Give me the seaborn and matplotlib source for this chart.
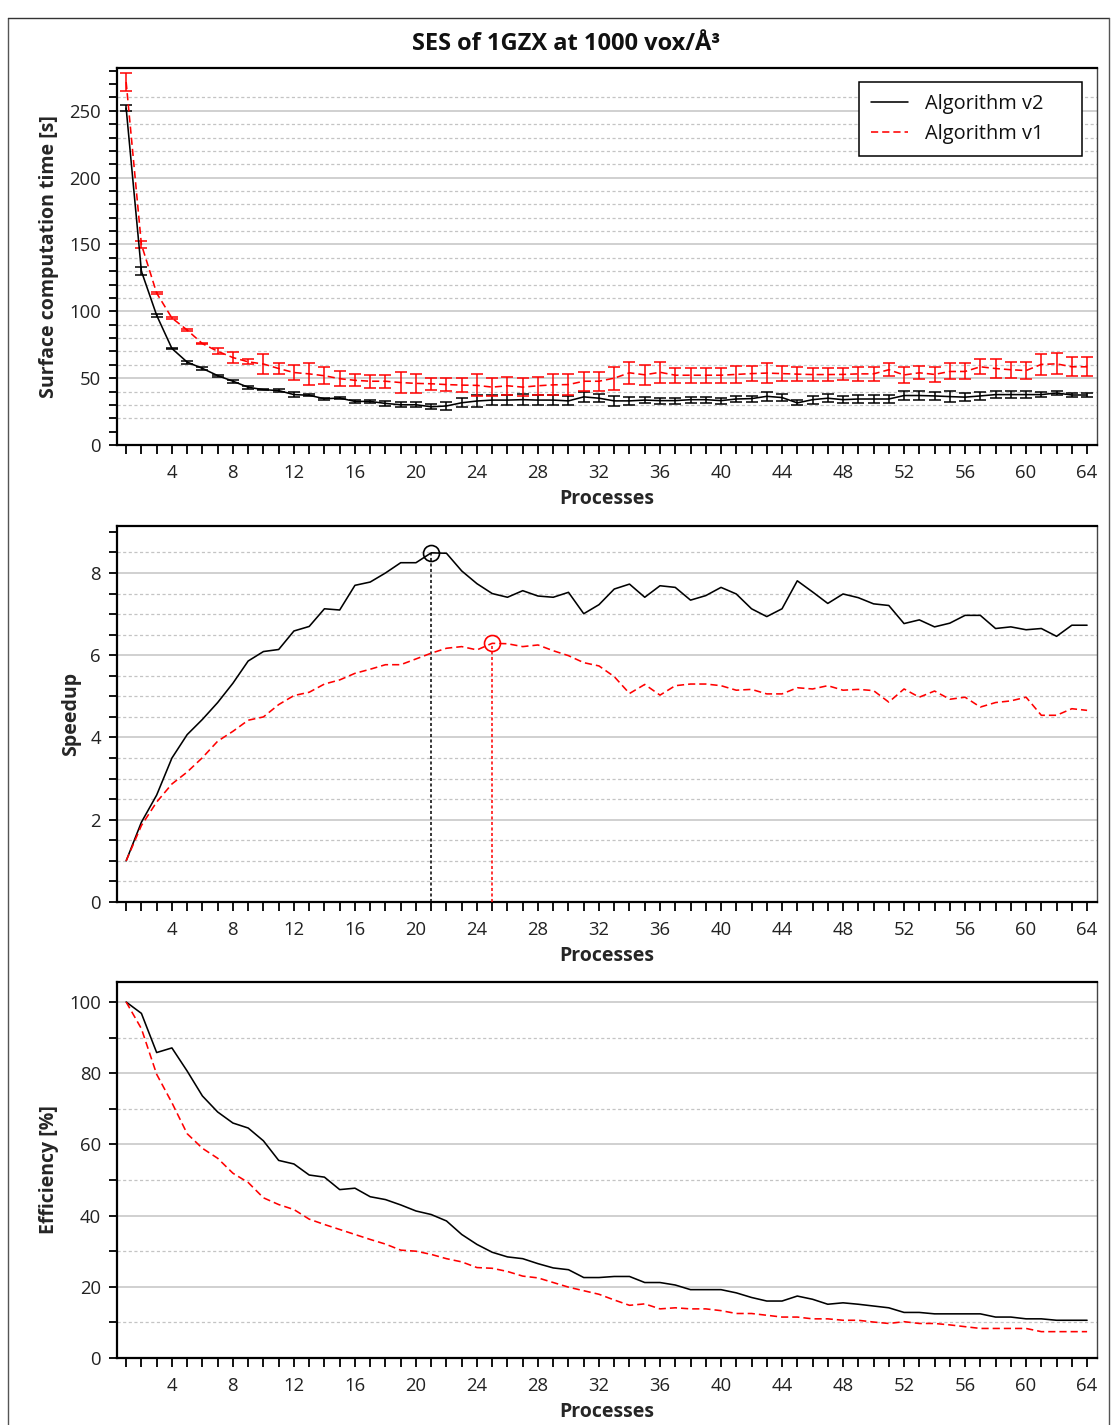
import numpy as np
import pandas as pd
import matplotlib
matplotlib.use("Agg")
import matplotlib.pyplot as plt
import seaborn as sns
from matplotlib.ticker import MultipleLocator, FixedLocator
from matplotlib.lines import Line2D

# ---------------- data ----------------
processes = list(range(1, 65))

time_v2 = [252, 130, 97, 72.2, 62, 57.3, 51.9, 47.7, 43.2, 41.4,
           40.7, 37.7, 37.2, 34.6, 35.1, 32.6, 32.6, 31.1, 30.1, 30.1,
           28.6, 29.2, 31.6, 32.9, 33.6, 33.6, 33.9, 33.6, 33.6, 33.0,
           36.0, 35.0, 33.0, 33.0, 33.6, 33.2, 33.2, 33.9, 33.9, 33.2,
           34.4, 34.7, 36.4, 35.5, 31.5, 33.9, 35.0, 33.9, 34.4, 34.4,
           34.4, 37.0, 37.0, 36.7, 36.2, 35.8, 36.7, 37.7, 37.7, 37.7,
           37.7, 38.9, 37.4, 37.4]
time_v2_err = [2.5, 2.8, 1.2, 0.5, 1.1, 0.9, 0.7, 1.0, 1.1, 0.6,
               1.1, 1.8, 0.8, 0.8, 0.8, 1.3, 1.0, 1.9, 2.0, 1.8,
               2.0, 3.3, 3.5, 4.8, 4.0, 4.0, 4.3, 4.0, 4.0, 3.4,
               3.8, 2.8, 3.5, 2.8, 2.0, 2.2, 2.2, 2.2, 2.2, 2.2,
               2.5, 2.3, 3.5, 2.5, 1.9, 2.9, 3.2, 2.5, 2.9, 2.9,
               2.9, 3.1, 3.1, 2.9, 4.0, 3.1, 2.9, 2.5, 2.5, 2.5,
               2.0, 1.8, 1.6, 1.6]

time_v1 = [271.5, 150, 113.6, 95, 86, 75.8, 70.1, 65.4, 62.2, 60.6,
           57.2, 54.2, 53.2, 51.8, 49.6, 48.4, 47.7, 47.7, 46.7, 46.1,
           45.8, 45.2, 44.8, 44.6, 43.3, 44.3, 43.3, 44.3, 45.0, 45.2,
           47.7, 47.7, 50.0, 54.0, 52.5, 54.4, 52.2, 52.2, 52.2, 52.2,
           52.8, 53.4, 53.8, 53.4, 53.0, 52.7, 52.7, 52.8, 53.2, 53.2,
           56.3, 52.4, 54.0, 52.8, 55.0, 55.0, 58.5, 57.2, 56.3, 55.7,
           60.3, 60.7, 58.5, 58.5]
time_v1_err = [7.0, 2.5, 1.0, 1.1, 0.9, 0.6, 2.2, 3.8, 1.9, 7.8,
               4.4, 5.4, 8.0, 6.5, 5.7, 4.4, 5.0, 5.0, 7.8, 7.2,
               4.4, 5.0, 5.4, 8.2, 7.0, 6.6, 7.0, 6.6, 7.8, 7.6,
               7.0, 7.0, 8.6, 8.3, 7.3, 7.9, 5.7, 5.7, 5.7, 5.7,
               6.3, 5.7, 7.3, 5.7, 5.3, 5.0, 5.0, 4.5, 5.0, 5.0,
               4.8, 5.9, 5.0, 5.5, 6.0, 6.0, 5.7, 6.9, 6.0, 6.6,
               7.6, 7.9, 7.0, 7.0]

speedup_v2 = [1.00, 1.94, 2.60, 3.50, 4.07, 4.44, 4.85, 5.32, 5.86, 6.09,
              6.14, 6.59, 6.70, 7.13, 7.10, 7.70, 7.78, 8.00, 8.25, 8.25,
              8.49, 8.48, 8.05, 7.74, 7.50, 7.41, 7.57, 7.44, 7.41, 7.53,
              7.01, 7.23, 7.61, 7.73, 7.41, 7.69, 7.65, 7.34, 7.45, 7.65,
              7.49, 7.13, 6.94, 7.13, 7.81, 7.54, 7.26, 7.49, 7.40, 7.25,
              7.21, 6.77, 6.86, 6.69, 6.78, 6.97, 6.97, 6.65, 6.69, 6.62,
              6.65, 6.46, 6.73, 6.73]
speedup_v1 = [1.00, 1.86, 2.43, 2.87, 3.16, 3.51, 3.91, 4.15, 4.42, 4.50,
              4.80, 5.02, 5.10, 5.30, 5.40, 5.56, 5.66, 5.77, 5.77, 5.91,
              6.05, 6.17, 6.21, 6.13, 6.29, 6.28, 6.21, 6.25, 6.11, 5.99,
              5.82, 5.74, 5.48, 5.07, 5.29, 5.03, 5.26, 5.30, 5.30, 5.26,
              5.15, 5.17, 5.06, 5.06, 5.21, 5.18, 5.26, 5.15, 5.17, 5.14,
              4.86, 5.18, 4.98, 5.13, 4.93, 4.98, 4.74, 4.85, 4.89, 4.98,
              4.54, 4.54, 4.70, 4.66]

efficiency_v2 = [100, 96.8, 85.8, 87.1, 80.6, 73.6, 69.1, 66.0, 64.6, 61.0,
                 55.5, 54.5, 51.4, 50.8, 47.3, 47.7, 45.3, 44.5, 43.0, 41.3,
                 40.3, 38.5, 34.7, 31.9, 29.7, 28.4, 27.9, 26.5, 25.3, 24.8,
                 22.6, 22.6, 22.9, 22.9, 21.2, 21.2, 20.5, 19.2, 19.2, 19.2,
                 18.3, 17.0, 16.0, 16.0, 17.4, 16.5, 15.1, 15.5, 15.1, 14.6,
                 14.1, 12.8, 12.8, 12.4, 12.4, 12.4, 12.4, 11.5, 11.5, 11.0,
                 11.0, 10.6, 10.6, 10.6]
efficiency_v1 = [100, 92.5, 79.7, 71.7, 63.0, 58.9, 56.1, 51.9, 49.3, 45.0,
                 43.1, 41.7, 39.0, 37.5, 36.1, 34.7, 33.3, 32.0, 30.3, 30.0,
                 29.1, 27.9, 27.0, 25.4, 25.2, 24.3, 23.0, 22.5, 21.2, 19.9,
                 18.9, 17.9, 16.3, 14.8, 15.2, 13.8, 14.1, 13.8, 13.8, 13.3,
                 12.5, 12.5, 12.0, 11.5, 11.5, 11.0, 11.0, 10.6, 10.6, 10.1,
                 9.7, 10.2, 9.7, 9.7, 9.3, 8.8, 8.3, 8.3, 8.3, 8.3,
                 7.4, 7.4, 7.4, 7.4]

series_names = ["Algorithm v2", "Algorithm v1"]
title_text = "SES of 1GZX at 1000 vox/Å³"
xlabel_text = "Processes"
ylabels = ["Surface computation time [s]", "Speedup", "Efficiency [%]"]
x_tick_labels = list(range(4, 65, 4))

# ---------------- style ----------------
sns.set_theme(style="white")
plt.rcParams['font.family'] = ['Open Sans', 'Noto Sans', 'DejaVu Sans']
plt.rcParams['axes.unicode_minus'] = False

W_PX, H_PX = 1118, 1425
fig = plt.figure(figsize=(W_PX / 100, H_PX / 100), dpi=100)
fig.patch.set_facecolor("white")

LEFT, RIGHT = 117, 1097


def add_axes(top_px, bottom_px):
    return fig.add_axes([LEFT / W_PX, 1 - bottom_px / H_PX,
                         (RIGHT - LEFT) / W_PX, (bottom_px - top_px) / H_PX])


ax1 = add_axes(68, 445)
ax2 = add_axes(525.7, 902)
ax3 = add_axes(981.7, 1358)

BLACK_LW = 1.15
RED_DASH = (0, (4.5, 2.5))


def style_axis(ax, ylim, ymajor, yminor_step, grid_major, grid_minor, ylabel):
    ax.set_xlim(0.4, 64.65)
    ax.set_ylim(*ylim)
    ax.xaxis.set_major_locator(FixedLocator(x_tick_labels))
    ax.xaxis.set_minor_locator(MultipleLocator(1))
    ax.yaxis.set_major_locator(FixedLocator(ymajor))
    ax.yaxis.set_minor_locator(MultipleLocator(yminor_step))
    ax.tick_params(axis="both", which="both", direction="out", color="black",
                   width=1.3, labelsize=13.3, bottom=True, left=True,
                   top=False, right=False)
    ax.tick_params(axis="x", which="both", length=6.2, pad=7.5)
    ax.tick_params(axis="y", which="both", length=5.5, pad=6)
    ax.tick_params(axis="both", which="major", labelcolor="#222222")
    for s in ["left", "bottom", "top"]:
        ax.spines[s].set_color("black")
        ax.spines[s].set_linewidth(1.6)
    ax.spines["right"].set_color("#444444")
    ax.spines["right"].set_linewidth(1.0)
    for v in grid_major:
        ax.axhline(v, color="#c4c4c4", lw=1.1, zorder=0)
    for v in grid_minor:
        ax.axhline(v, color="#c4c4c4", lw=0.9, ls=(0, (2.5, 2.0)), zorder=0)
    ax.set_xlabel(xlabel_text, fontsize=14, fontweight="bold", labelpad=5)
    ax.set_ylabel(ylabel, fontsize=14, fontweight="bold", labelpad=7)


# --- panel 1: computation time
style_axis(ax1, (0, 282), list(range(0, 251, 50)), 10,
           list(range(50, 251, 50)),
           [v for v in range(20, 261, 10) if v % 50],
           ylabels[0])
ax1.errorbar(processes, time_v2, yerr=time_v2_err, fmt="none", ecolor="black",
             elinewidth=1.1, capsize=4.2, capthick=1.1, zorder=3)
ax1.errorbar(processes, time_v1, yerr=time_v1_err, fmt="none", ecolor="red",
             elinewidth=1.1, capsize=4.2, capthick=1.1, zorder=3)
sns.lineplot(x=processes, y=time_v2, ax=ax1, color="black", lw=BLACK_LW,
             legend=False, zorder=4)
sns.lineplot(x=processes, y=time_v1, ax=ax1, color="red", lw=BLACK_LW,
             linestyle=RED_DASH, legend=False, zorder=4)

handles = [Line2D([], [], color="black", lw=BLACK_LW),
           Line2D([], [], color="red", lw=BLACK_LW, linestyle=RED_DASH)]
leg_x0 = (859 - 117) / 980
leg_w = (1082 - 859) / 980
leg = ax1.legend(handles, series_names, loc="upper left",
                 bbox_to_anchor=(leg_x0, 0.0, leg_w, 0.963), mode="expand",
                 borderaxespad=0,
                 fancybox=False, framealpha=1, edgecolor="black",
                 fontsize=14.4, handlelength=1.85, handletextpad=0.85,
                 borderpad=0.62, labelspacing=0.48)
leg.get_frame().set_linewidth(1.1)
for t in leg.get_texts():
    t.set_color("#111111")

# --- panel 2: speedup
style_axis(ax2, (0, 9.15), [0, 2, 4, 6, 8], 0.5,
           [2, 4, 6, 8],
           [v / 2 for v in range(1, 18) if v % 4],
           ylabels[1])
sns.lineplot(x=processes, y=speedup_v2, ax=ax2, color="black", lw=BLACK_LW,
             legend=False, zorder=4)
sns.lineplot(x=processes, y=speedup_v1, ax=ax2, color="red", lw=BLACK_LW,
             linestyle=RED_DASH, legend=False, zorder=4)
for vals, col in [(speedup_v2, "black"), (speedup_v1, "red")]:
    i = int(np.argmax(vals))
    ax2.vlines(processes[i], 0, vals[i], colors=col, lw=1.1,
               linestyles=[(0, (2.0, 1.6))], zorder=3)
    ax2.plot(processes[i], vals[i], marker="o", ms=11.5, mfc="none",
             mec=col, mew=1.2, zorder=5)

# --- panel 3: efficiency
style_axis(ax3, (0, 105.7), list(range(0, 101, 20)), 10,
           list(range(20, 101, 20)),
           list(range(10, 91, 20)),
           ylabels[2])
sns.lineplot(x=processes, y=efficiency_v2, ax=ax3, color="black", lw=BLACK_LW,
             legend=False, zorder=4)
sns.lineplot(x=processes, y=efficiency_v1, ax=ax3, color="red", lw=BLACK_LW,
             linestyle=RED_DASH, legend=False, zorder=4)

# --- title and figure frame
fig.text(566.5 / W_PX, 1 - 44 / H_PX, title_text, ha="center", va="center",
         fontsize=17, fontweight="bold", color="#111111")
fx0, fx1 = 8 / W_PX, 1109 / W_PX
fy1 = 1 - 18 / H_PX
fig.add_artist(Line2D([fx0, fx0], [0, fy1], color="#555555", lw=1.0))
fig.add_artist(Line2D([fx0, fx1], [fy1, fy1], color="#333333", lw=1.0))
fig.add_artist(Line2D([fx1, fx1], [0, fy1], color="#555555", lw=1.0))

fig.savefig("out.png", dpi=100, facecolor="white")
